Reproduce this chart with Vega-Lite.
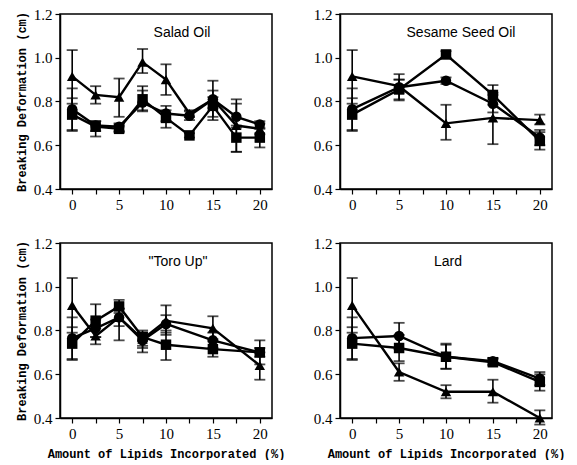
{
  "$schema": "https://vega.github.io/schema/vega-lite/v6.json",
  "background": "white",
  "padding": {"left": 14, "top": 6, "right": 5, "bottom": 0},
  "datasets": {
    "d": [
      {"p":"Salad Oil","s":"tri","x":0,"y":0.915,"lo":0.79,"hi":1.035},
      {"p":"Salad Oil","s":"tri","x":2.5,"y":0.83,"lo":0.79,"hi":0.87},
      {"p":"Salad Oil","s":"tri","x":5,"y":0.82,"lo":0.73,"hi":0.905},
      {"p":"Salad Oil","s":"tri","x":7.5,"y":0.98,"lo":0.93,"hi":1.04},
      {"p":"Salad Oil","s":"tri","x":10,"y":0.9,"lo":0.83,"hi":0.97},
      {"p":"Salad Oil","s":"tri","x":12.5,"y":0.745,"lo":0.73,"hi":0.76},
      {"p":"Salad Oil","s":"tri","x":15,"y":0.81,"lo":0.73,"hi":0.895},
      {"p":"Salad Oil","s":"tri","x":17.5,"y":0.69,"lo":0.57,"hi":0.81},
      {"p":"Salad Oil","s":"tri","x":20,"y":0.675,"lo":0.65,"hi":0.7},
      {"p":"Salad Oil","s":"cir","x":0,"y":0.765,"lo":0.67,"hi":0.86},
      {"p":"Salad Oil","s":"cir","x":2.5,"y":0.69,"lo":0.665,"hi":0.71},
      {"p":"Salad Oil","s":"cir","x":5,"y":0.685,"lo":0.665,"hi":0.7},
      {"p":"Salad Oil","s":"cir","x":7.5,"y":0.795,"lo":0.755,"hi":0.87},
      {"p":"Salad Oil","s":"cir","x":10,"y":0.745,"lo":0.71,"hi":0.78},
      {"p":"Salad Oil","s":"cir","x":12.5,"y":0.735,"lo":0.715,"hi":0.755},
      {"p":"Salad Oil","s":"cir","x":15,"y":0.81,"lo":0.77,"hi":0.85},
      {"p":"Salad Oil","s":"cir","x":17.5,"y":0.73,"lo":0.69,"hi":0.79},
      {"p":"Salad Oil","s":"cir","x":20,"y":0.695,"lo":0.68,"hi":0.71},
      {"p":"Salad Oil","s":"sq","x":0,"y":0.74,"lo":0.665,"hi":0.815},
      {"p":"Salad Oil","s":"sq","x":2.5,"y":0.685,"lo":0.64,"hi":0.71},
      {"p":"Salad Oil","s":"sq","x":5,"y":0.675,"lo":0.66,"hi":0.69},
      {"p":"Salad Oil","s":"sq","x":7.5,"y":0.81,"lo":0.76,"hi":0.85},
      {"p":"Salad Oil","s":"sq","x":10,"y":0.725,"lo":0.68,"hi":0.76},
      {"p":"Salad Oil","s":"sq","x":12.5,"y":0.645,"lo":0.635,"hi":0.655},
      {"p":"Salad Oil","s":"sq","x":15,"y":0.78,"lo":0.715,"hi":0.82},
      {"p":"Salad Oil","s":"sq","x":17.5,"y":0.635,"lo":0.57,"hi":0.68},
      {"p":"Salad Oil","s":"sq","x":20,"y":0.635,"lo":0.59,"hi":0.675},

      {"p":"Sesame Seed Oil","s":"tri","x":0,"y":0.915,"lo":0.79,"hi":1.035},
      {"p":"Sesame Seed Oil","s":"tri","x":5,"y":0.87,"lo":0.84,"hi":0.9},
      {"p":"Sesame Seed Oil","s":"tri","x":10,"y":0.7,"lo":0.625,"hi":0.785},
      {"p":"Sesame Seed Oil","s":"tri","x":15,"y":0.725,"lo":0.605,"hi":0.84},
      {"p":"Sesame Seed Oil","s":"tri","x":20,"y":0.715,"lo":0.695,"hi":0.74},
      {"p":"Sesame Seed Oil","s":"cir","x":0,"y":0.765,"lo":0.67,"hi":0.86},
      {"p":"Sesame Seed Oil","s":"cir","x":5,"y":0.865,"lo":0.805,"hi":0.925},
      {"p":"Sesame Seed Oil","s":"cir","x":10,"y":0.895,"lo":0.88,"hi":0.91},
      {"p":"Sesame Seed Oil","s":"cir","x":15,"y":0.79,"lo":0.75,"hi":0.83},
      {"p":"Sesame Seed Oil","s":"cir","x":20,"y":0.635,"lo":0.6,"hi":0.67},
      {"p":"Sesame Seed Oil","s":"sq","x":0,"y":0.74,"lo":0.665,"hi":0.815},
      {"p":"Sesame Seed Oil","s":"sq","x":5,"y":0.855,"lo":0.81,"hi":0.9},
      {"p":"Sesame Seed Oil","s":"sq","x":10,"y":1.015,"lo":1.0,"hi":1.03},
      {"p":"Sesame Seed Oil","s":"sq","x":15,"y":0.83,"lo":0.785,"hi":0.875},
      {"p":"Sesame Seed Oil","s":"sq","x":20,"y":0.62,"lo":0.58,"hi":0.66},

      {"p":"\"Toro Up\"","s":"tri","x":0,"y":0.915,"lo":0.79,"hi":1.04},
      {"p":"\"Toro Up\"","s":"tri","x":2.5,"y":0.775,"lo":0.737,"hi":0.81},
      {"p":"\"Toro Up\"","s":"tri","x":5,"y":0.86,"lo":0.755,"hi":0.9},
      {"p":"\"Toro Up\"","s":"tri","x":7.5,"y":0.76,"lo":0.73,"hi":0.79},
      {"p":"\"Toro Up\"","s":"tri","x":10,"y":0.845,"lo":0.78,"hi":0.915},
      {"p":"\"Toro Up\"","s":"tri","x":15,"y":0.81,"lo":0.76,"hi":0.865},
      {"p":"\"Toro Up\"","s":"tri","x":20,"y":0.64,"lo":0.575,"hi":0.7},
      {"p":"\"Toro Up\"","s":"cir","x":0,"y":0.765,"lo":0.67,"hi":0.86},
      {"p":"\"Toro Up\"","s":"cir","x":2.5,"y":0.81,"lo":0.77,"hi":0.85},
      {"p":"\"Toro Up\"","s":"cir","x":5,"y":0.86,"lo":0.82,"hi":0.9},
      {"p":"\"Toro Up\"","s":"cir","x":7.5,"y":0.755,"lo":0.72,"hi":0.79},
      {"p":"\"Toro Up\"","s":"cir","x":10,"y":0.83,"lo":0.79,"hi":0.87},
      {"p":"\"Toro Up\"","s":"cir","x":15,"y":0.755,"lo":0.72,"hi":0.79},
      {"p":"\"Toro Up\"","s":"cir","x":20,"y":0.7,"lo":0.645,"hi":0.755},
      {"p":"\"Toro Up\"","s":"sq","x":0,"y":0.74,"lo":0.665,"hi":0.815},
      {"p":"\"Toro Up\"","s":"sq","x":2.5,"y":0.845,"lo":0.77,"hi":0.92},
      {"p":"\"Toro Up\"","s":"sq","x":5,"y":0.91,"lo":0.88,"hi":0.94},
      {"p":"\"Toro Up\"","s":"sq","x":7.5,"y":0.77,"lo":0.7,"hi":0.8},
      {"p":"\"Toro Up\"","s":"sq","x":10,"y":0.735,"lo":0.665,"hi":0.8},
      {"p":"\"Toro Up\"","s":"sq","x":15,"y":0.715,"lo":0.68,"hi":0.75},
      {"p":"\"Toro Up\"","s":"sq","x":20,"y":0.7,"lo":0.68,"hi":0.72},

      {"p":"Lard","s":"tri","x":0,"y":0.915,"lo":0.79,"hi":1.04},
      {"p":"Lard","s":"tri","x":5,"y":0.61,"lo":0.57,"hi":0.65},
      {"p":"Lard","s":"tri","x":10,"y":0.52,"lo":0.49,"hi":0.55},
      {"p":"Lard","s":"tri","x":15,"y":0.52,"lo":0.47,"hi":0.575},
      {"p":"Lard","s":"tri","x":20,"y":0.4,"lo":0.37,"hi":0.435},
      {"p":"Lard","s":"cir","x":0,"y":0.765,"lo":0.67,"hi":0.86},
      {"p":"Lard","s":"cir","x":5,"y":0.775,"lo":0.715,"hi":0.835},
      {"p":"Lard","s":"cir","x":10,"y":0.68,"lo":0.625,"hi":0.74},
      {"p":"Lard","s":"cir","x":15,"y":0.66,"lo":0.645,"hi":0.675},
      {"p":"Lard","s":"cir","x":20,"y":0.58,"lo":0.55,"hi":0.61},
      {"p":"Lard","s":"sq","x":0,"y":0.74,"lo":0.665,"hi":0.815},
      {"p":"Lard","s":"sq","x":5,"y":0.72,"lo":0.66,"hi":0.78},
      {"p":"Lard","s":"sq","x":10,"y":0.68,"lo":0.625,"hi":0.735},
      {"p":"Lard","s":"sq","x":15,"y":0.655,"lo":0.64,"hi":0.67},
      {"p":"Lard","s":"sq","x":20,"y":0.565,"lo":0.525,"hi":0.6}
    ]
  },
  "data": {"name": "d"},
  "columns": 2,
  "spacing": {"row": 54, "column": 68},
  "bounds": "flush",
  "concat": [
    {
      "width": 212, "height": 175,
      "title": {"text": "Salad Oil", "offset": -33, "dx": 16, "frame": "group"},
      "transform": [{"filter": "datum.p == 'Salad Oil'"}],
      "encoding": {
        "x": {"field": "x", "type": "quantitative", "scale": {"domain": [-1.3, 21.3], "nice": false, "zero": false},
              "axis": {"title": null, "values": [0,2.5,5,7.5,10,12.5,15,17.5,20], "labelExpr": "datum.value % 5 == 0 ? datum.label : ''"}}
      },
      "layer": [
        {"mark": {"type": "rule", "color": "black", "strokeWidth": 1.6},
         "encoding": {"y": {"field": "lo", "type": "quantitative", "scale": {"domain": [0.4, 1.2], "nice": false, "zero": false},
                            "axis": {"title": "Breaking Deformation (cm)", "values": [0.4,0.5,0.6,0.7,0.8,0.9,1.0,1.1,1.2], "format": ".1f", "labelExpr": "round(datum.value*10) % 2 == 0 ? datum.label : ''"}},
                      "y2": {"field": "hi"}}},
        {"mark": {"type": "tick", "color": "black", "orient": "horizontal", "size": 11, "thickness": 1.8}, "encoding": {"y": {"field": "lo", "type": "quantitative"}}},
        {"mark": {"type": "tick", "color": "black", "orient": "horizontal", "size": 11, "thickness": 1.8}, "encoding": {"y": {"field": "hi", "type": "quantitative"}}},
        {"mark": {"type": "line", "color": "black", "strokeWidth": 2.4}, "encoding": {"y": {"field": "y", "type": "quantitative"}, "detail": {"field": "s"}}},
        {"mark": {"type": "point", "filled": true, "color": "black", "opacity": 1, "size": 110},
         "encoding": {"y": {"field": "y", "type": "quantitative"},
                      "shape": {"field": "s", "type": "nominal", "scale": {"domain": ["tri","cir","sq"], "range": ["triangle-up","circle","square"]}, "legend": null}}}
      ]
    },
    {
      "width": 212, "height": 175,
      "title": {"text": "Sesame Seed Oil", "offset": -33, "dx": 15, "frame": "group"},
      "transform": [{"filter": "datum.p == 'Sesame Seed Oil'"}],
      "encoding": {
        "x": {"field": "x", "type": "quantitative", "scale": {"domain": [-1.3, 21.3], "nice": false, "zero": false},
              "axis": {"title": null, "values": [0,2.5,5,7.5,10,12.5,15,17.5,20], "labelExpr": "datum.value % 5 == 0 ? datum.label : ''"}}
      },
      "layer": [
        {"mark": {"type": "rule", "color": "black", "strokeWidth": 1.6},
         "encoding": {"y": {"field": "lo", "type": "quantitative", "scale": {"domain": [0.4, 1.2], "nice": false, "zero": false},
                            "axis": {"title": null, "values": [0.4,0.5,0.6,0.7,0.8,0.9,1.0,1.1,1.2], "format": ".1f", "labelExpr": "round(datum.value*10) % 2 == 0 ? datum.label : ''"}},
                      "y2": {"field": "hi"}}},
        {"mark": {"type": "tick", "color": "black", "orient": "horizontal", "size": 11, "thickness": 1.8}, "encoding": {"y": {"field": "lo", "type": "quantitative"}}},
        {"mark": {"type": "tick", "color": "black", "orient": "horizontal", "size": 11, "thickness": 1.8}, "encoding": {"y": {"field": "hi", "type": "quantitative"}}},
        {"mark": {"type": "line", "color": "black", "strokeWidth": 2.4}, "encoding": {"y": {"field": "y", "type": "quantitative"}, "detail": {"field": "s"}}},
        {"mark": {"type": "point", "filled": true, "color": "black", "opacity": 1, "size": 110},
         "encoding": {"y": {"field": "y", "type": "quantitative"},
                      "shape": {"field": "s", "type": "nominal", "scale": {"domain": ["tri","cir","sq"], "range": ["triangle-up","circle","square"]}, "legend": null}}}
      ]
    },
    {
      "width": 212, "height": 175,
      "title": {"text": "\"Toro Up\"", "offset": -33, "dx": 12, "frame": "group"},
      "transform": [{"filter": "datum.p == '\"Toro Up\"'"}],
      "encoding": {
        "x": {"field": "x", "type": "quantitative", "scale": {"domain": [-1.3, 21.3], "nice": false, "zero": false},
              "axis": {"title": "Amount of Lipids Incorporated (%)", "values": [0,2.5,5,7.5,10,12.5,15,17.5,20], "labelExpr": "datum.value % 5 == 0 ? datum.label : ''"}}
      },
      "layer": [
        {"mark": {"type": "rule", "color": "black", "strokeWidth": 1.6},
         "encoding": {"y": {"field": "lo", "type": "quantitative", "scale": {"domain": [0.4, 1.2], "nice": false, "zero": false},
                            "axis": {"title": "Breaking Deformation (cm)", "values": [0.4,0.5,0.6,0.7,0.8,0.9,1.0,1.1,1.2], "format": ".1f", "labelExpr": "round(datum.value*10) % 2 == 0 ? datum.label : ''"}},
                      "y2": {"field": "hi"}}},
        {"mark": {"type": "tick", "color": "black", "orient": "horizontal", "size": 11, "thickness": 1.8}, "encoding": {"y": {"field": "lo", "type": "quantitative"}}},
        {"mark": {"type": "tick", "color": "black", "orient": "horizontal", "size": 11, "thickness": 1.8}, "encoding": {"y": {"field": "hi", "type": "quantitative"}}},
        {"mark": {"type": "line", "color": "black", "strokeWidth": 2.4}, "encoding": {"y": {"field": "y", "type": "quantitative"}, "detail": {"field": "s"}}},
        {"mark": {"type": "point", "filled": true, "color": "black", "opacity": 1, "size": 110},
         "encoding": {"y": {"field": "y", "type": "quantitative"},
                      "shape": {"field": "s", "type": "nominal", "scale": {"domain": ["tri","cir","sq"], "range": ["triangle-up","circle","square"]}, "legend": null}}}
      ]
    },
    {
      "width": 212, "height": 175,
      "title": {"text": "Lard", "offset": -33, "dx": 2, "frame": "group"},
      "transform": [{"filter": "datum.p == 'Lard'"}],
      "encoding": {
        "x": {"field": "x", "type": "quantitative", "scale": {"domain": [-1.3, 21.3], "nice": false, "zero": false},
              "axis": {"title": "Amount of Lipids Incorporated (%)", "values": [0,2.5,5,7.5,10,12.5,15,17.5,20], "labelExpr": "datum.value % 5 == 0 ? datum.label : ''"}}
      },
      "layer": [
        {"mark": {"type": "rule", "color": "black", "strokeWidth": 1.6},
         "encoding": {"y": {"field": "lo", "type": "quantitative", "scale": {"domain": [0.4, 1.2], "nice": false, "zero": false},
                            "axis": {"title": null, "values": [0.4,0.5,0.6,0.7,0.8,0.9,1.0,1.1,1.2], "format": ".1f", "labelExpr": "round(datum.value*10) % 2 == 0 ? datum.label : ''"}},
                      "y2": {"field": "hi"}}},
        {"mark": {"type": "tick", "color": "black", "orient": "horizontal", "size": 11, "thickness": 1.8}, "encoding": {"y": {"field": "lo", "type": "quantitative"}}},
        {"mark": {"type": "tick", "color": "black", "orient": "horizontal", "size": 11, "thickness": 1.8}, "encoding": {"y": {"field": "hi", "type": "quantitative"}}},
        {"mark": {"type": "line", "color": "black", "strokeWidth": 2.4}, "encoding": {"y": {"field": "y", "type": "quantitative"}, "detail": {"field": "s"}}},
        {"mark": {"type": "point", "filled": true, "color": "black", "opacity": 1, "size": 110},
         "encoding": {"y": {"field": "y", "type": "quantitative"},
                      "shape": {"field": "s", "type": "nominal", "scale": {"domain": ["tri","cir","sq"], "range": ["triangle-up","circle","square"]}, "legend": null}}}
      ]
    }
  ],
  "config": {
    "view": {"stroke": "black", "strokeWidth": 1.5},
    "axis": {
      "grid": false,
      "domainColor": "black", "domainWidth": 1.5,
      "tickColor": "black", "tickWidth": 1.2, "tickSize": 5,
      "labelFont": "Liberation Serif", "labelFontSize": 15, "labelColor": "black", "labelPadding": 3,
      "titleFont": "Liberation Mono", "titleFontWeight": "bold", "titleFontSize": 12, "titleColor": "black"
    },
    "axisX": {"titlePadding": 7},
    "axisY": {"titlePadding": 5, "labelFlush": false, "labelOverlap": false},
    "title": {"font": "Liberation Sans", "fontSize": 14, "fontWeight": "normal", "color": "black", "anchor": "middle"}
  }
}
